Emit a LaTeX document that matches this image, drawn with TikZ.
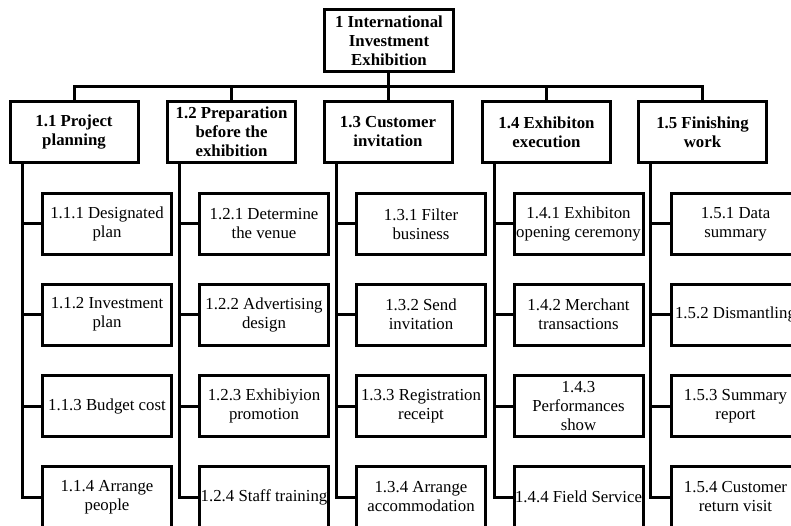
\documentclass[tikz,border=0pt]{standalone}
\usepackage{fontspec}
\setmainfont{Liberation Serif}
\begin{document}
\begin{tikzpicture}[x=1pt,y=-1pt,line width=3pt,line join=miter,
  box/.style={draw,line width=3pt,inner sep=0pt,align=center,fill=white,
    font=\fontsize{16.8}{19}\selectfont},
  rootbox/.style={box,font=\fontsize{16.8}{19}\selectfont\bfseries,minimum width=129pt,minimum height=62pt},
  topbox/.style={box,font=\fontsize{16.8}{19}\selectfont\bfseries,minimum width=128pt,minimum height=61pt},
  subbox/.style={box,minimum width=129pt,minimum height=61pt},
  conn/.style={draw,line width=3pt}]
\useasboundingbox (0,0) rectangle (791,526);
\clip (0,0) rectangle (791,526);
\fill[white] (0,0) rectangle (791,526);

\node[rootbox] (root) at (389,40.5) {1 International\\Investment\\Exhibition};

\node[topbox] (A) at (74,132) {1.1 Project\\planning};
\node[topbox] (B) at (231.5,132) {1.2 Preparation\\before the\\exhibition};
\node[topbox] (C) at (388,132) {1.3 Customer\\invitation};
\node[topbox] (D) at (546.5,132) {1.4 Exhibiton\\execution};
\node[topbox] (E) at (702.5,132) {1.5 Finishing\\work};

\node[subbox] (A1) at (107,224) {1.1.1 Designated\\plan};
\node[subbox] (A2) at (107,314.5) {1.1.2 Investment\\plan};
\node[subbox] (A3) at (107,406) {1.1.3 Budget cost};
\node[subbox] (A4) at (107,497) {1.1.4 Arrange\\people};

\node[subbox] (B1) at (264,224) {1.2.1 Determine\\the venue};
\node[subbox] (B2) at (264,314.5) {1.2.2 Advertising\\design};
\node[subbox] (B3) at (264,406) {1.2.3 Exhibiyion\\promotion};
\node[subbox] (B4) at (264,497) {1.2.4 Staff training};

\node[subbox] (C1) at (421,224) {1.3.1 Filter\\business};
\node[subbox] (C2) at (421,314.5) {1.3.2 Send\\invitation};
\node[subbox] (C3) at (421,406) {1.3.3 Registration\\receipt};
\node[subbox] (C4) at (421,497) {1.3.4 Arrange\\accommodation};

\node[subbox] (D1) at (578.5,224) {1.4.1 Exhibiton\\opening ceremony};
\node[subbox] (D2) at (578.5,314.5) {1.4.2 Merchant\\transactions};
\node[subbox] (D3) at (578.5,406) {1.4.3\\Performances\\show};
\node[subbox] (D4) at (578.5,497) {1.4.4 Field Service};

\node[subbox] (E1) at (735.5,224) {1.5.1 Data\\summary};
\node[subbox] (E2) at (735.5,314.5) {1.5.2 Dismantling};
\node[subbox] (E3) at (735.5,406) {1.5.3 Summary\\report};
\node[subbox] (E4) at (735.5,497) {1.5.4 Customer\\return visit};

\coordinate (bar) at (388,87);
\draw[conn] (root.south -| bar) -- (bar);
\foreach \t in {A,B,C,D,E}{
  \draw[conn] (\t.north) |- (bar);
  \coordinate (s\t) at ([xshift=13.5pt]\t.south west);
  \draw[conn] (s\t) |- (\t4.west);
  \foreach \k in {1,2,3}{
    \draw[conn] (\t\k.west) -- (\t\k.west -| s\t);
  }
}
\end{tikzpicture}
\end{document}
